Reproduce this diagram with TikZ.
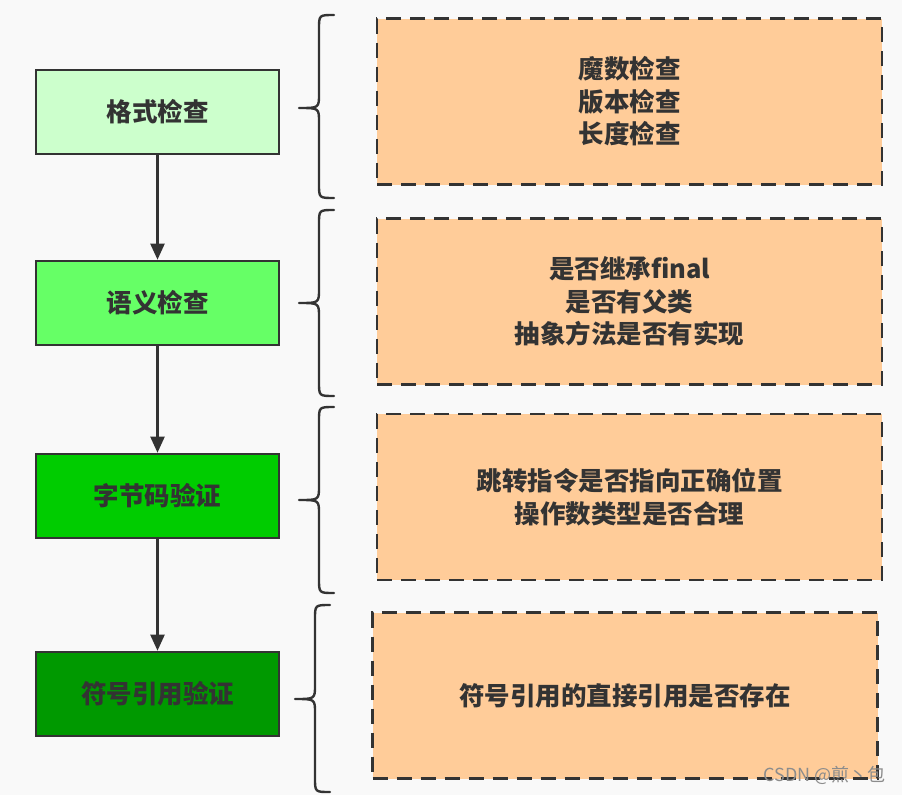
\documentclass[tikz,border=0pt]{standalone}
\usepackage{fontspec}
\newfontfamily\cjk{Noto Sans CJK SC}
\usetikzlibrary{arrows.meta}
\definecolor{ink}{HTML}{333333}
\definecolor{bg}{HTML}{F9F9F9}
\definecolor{gA}{HTML}{CCFFCC}
\definecolor{gB}{HTML}{66FF66}
\definecolor{gC}{HTML}{00CC00}
\definecolor{gD}{HTML}{009900}
\definecolor{peach}{HTML}{FFCC99}
\tikzset{
  stepbox/.style={draw=ink, line width=2.6pt, minimum width=243pt, minimum height=84pt, inner sep=0pt,
    font=\cjk\bfseries\fontsize{25.5}{31}\selectfont, text=ink},
  infobox/.style={draw=ink, line width=2.6pt, dash pattern=on 15pt off 9pt, fill=peach,
    minimum width=505pt, minimum height=166pt, inner sep=0pt, align=center,
    font=\cjk\bfseries\fontsize{25.5}{32.5}\selectfont, text=ink},
  flow/.style={draw=ink, line width=2.2pt, -{Triangle[length=16pt,width=14pt]}},
  bracepath/.style={draw=ink, line width=2.4pt, line cap=round, line join=round},
}
\newcommand{\curlybrace}[6]{% xe xs xt top mid bottom
  \draw[bracepath] (#1,#4) .. controls (#2,#4) .. (#2,#4+14) -- (#2,#5-14)
    .. controls (#2,#5) .. (#3,#5) .. controls (#2,#5) .. (#2,#5+14)
    -- (#2,#6-14) .. controls (#2,#6) .. (#1,#6);}
\begin{document}
\begin{tikzpicture}[x=1pt,y=-1pt]
\fill[bg] (0,0) rectangle (902,795);
\useasboundingbox (0,0) rectangle (902,795);

\node[stepbox, fill=gA] (s1) at (157.5,112) {格式检查};
\node[stepbox, fill=gB] (s2) at (157.5,303) {语义检查};
\node[stepbox, fill=gC] (s3) at (157.5,496) {字节码验证};
\node[stepbox, fill=gD] (s4) at (157.5,694) {符号引用验证};

\draw[flow] (s1) -- (s2);
\draw[flow] (s2) -- (s3);
\draw[flow] (s3) -- (s4);

\curlybrace{334}{319}{299}{15}{108}{198}
\curlybrace{334}{319}{299}{210}{303}{396}
\curlybrace{334}{319}{299}{407}{500}{593}
\curlybrace{330}{315}{295}{605}{699}{792}

\node[infobox] (d1) at (629.5,101.5) {魔数检查\\版本检查\\长度检查};
\node[infobox] (d2) at (629.5,301.5) {是否继承final\\是否有父类\\抽象方法是否有实现};
\node[infobox] (d3) at (629.5,497) {跳转指令是否指向正确位置\\操作数类型是否合理};
\node[infobox] (d4) at (625,695.5) {符号引用的直接引用是否存在};

\node[text=black!45, font=\cjk\fontsize{18}{20}\selectfont, anchor=east] (wm) at (889,775) {CSDN @煎丶包};
\end{tikzpicture}
\end{document}
